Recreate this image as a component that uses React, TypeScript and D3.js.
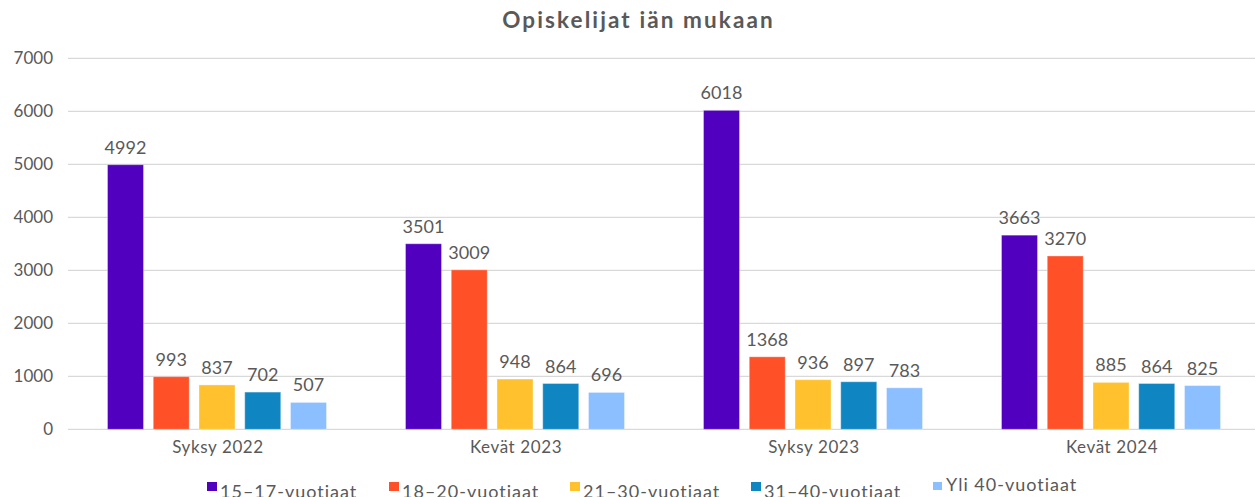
import React from "react";
import * as d3 from "d3";

const categories = ["Syksy 2022", "Kevät 2023", "Syksy 2023", "Kevät 2024"];
const seriesNames = ["15–17-vuotiaat", "18–20-vuotiaat", "21–30-vuotiaat", "31–40-vuotiaat", "Yli 40-vuotiaat"];
const s1517 = [4992, 3501, 6018, 3663];
const s1820 = [993, 3009, 1368, 3270];
const s2130 = [837, 948, 936, 885];
const s3140 = [702, 864, 897, 864];
const sYli40 = [507, 696, 783, 825];
const seriesValues = [s1517, s1820, s2130, s3140, sYli40];
const colors = ["#5000BE", "#FF5028", "#FFC12D", "#0F86C2", "#8CBFFF"];
const yTicks = [0, 1000, 2000, 3000, 4000, 5000, 6000, 7000];
const legendX = [207, 389, 570, 751, 933];

const W = 1255, H = 497;
const FONT = "Lato, 'Open Sans', sans-serif";
const TXT = "#595959";

export default function App() {
  const x0 = d3.scaleBand().domain(categories).range([68, 1260]).paddingInner(0).paddingOuter(0);
  const groupW = 219;
  const x1 = d3.scaleBand().domain(seriesNames).range([0, groupW]).paddingInner(0.213).paddingOuter(0);
  const y = d3.scaleLinear().domain([0, 7000]).range([429.3, 58.3]);

  return (
    <svg width={W} height={H} style={{ position: "absolute", left: 0, top: 0, background: "#fff" }} fontFamily={FONT}>
      <text x={638.5} y={28} textAnchor="middle" fontSize={22.5} fontWeight={700} letterSpacing={2.1} fill={TXT}>Opiskelijat iän mukaan</text>
      {yTicks.map(t => (
        <g key={t}>
          <line x1={68} x2={1255} y1={y(t)} y2={y(t)} stroke="#D9D9D9" strokeWidth={1.3} />
          <text x={53} y={y(t)} dy="0.35em" textAnchor="end" fontSize={17} fill={TXT}>{t}</text>
        </g>
      ))}
      {categories.map((c, ci) => {
        const gx = (x0(c) as number) + x0.bandwidth() / 2 - groupW / 2;
        return (
          <g key={c}>
            {seriesNames.map((s, si) => {
              const v = seriesValues[si][ci];
              const bx = gx + (x1(s) as number);
              return (
                <g key={s}>
                  <rect x={bx} y={y(v)} width={x1.bandwidth()} height={y(0) - y(v)} fill={colors[si]}
                    stroke="rgba(255,255,255,0.35)" strokeWidth={1} />
                  <text x={bx + x1.bandwidth() / 2} y={y(v) - 11} textAnchor="middle" fontSize={18} fill={TXT}>{v}</text>
                </g>
              );
            })}
            <text x={(x0(c) as number) + x0.bandwidth() / 2 + 1} y={453} textAnchor="middle" fontSize={17} letterSpacing={0.6} fill={TXT}>{c}</text>
          </g>
        );
      })}
      {seriesNames.map((s, si) => {
        const last = si === 4;
        const yy = last ? 491 : 498;
        return (
          <g key={s}>
            <rect x={legendX[si]} y={482} width={last ? 9 : 10} height={last ? 8 : 9} fill={colors[si]} />
            <text x={legendX[si] + 13} y={yy} fontSize={18} letterSpacing={1} fill={TXT}>{s}</text>
          </g>
        );
      })}
    </svg>
  );
}
